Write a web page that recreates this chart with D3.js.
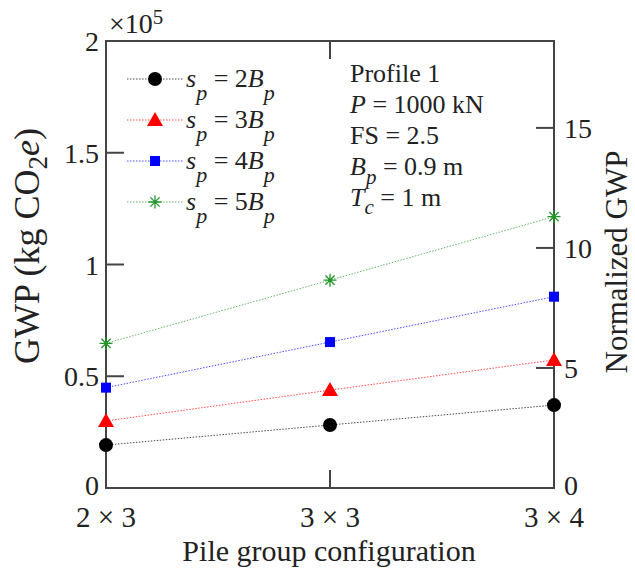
<!DOCTYPE html>
<html><head><meta charset="utf-8">
<script src="https://cdn.jsdelivr.net/npm/d3@7"></script>
<style>body{margin:0;background:#fff}svg{display:block}text{font-family:"Liberation Serif","Times New Roman",serif;fill:#222}</style>
</head><body>
<svg id="c" width="635" height="571"></svg>
<script>
const categories = ["2 × 3", "3 × 3", "3 × 4"];
const seriesNames = ["2", "3", "4", "5"];
const gwp2B = [19200, 28200, 37100];
const gwp3B = [30000, 43800, 57300];
const gwp4B = [44900, 65300, 85600];
const gwp5B = [64700, 93000, 121400];
const leftTicks = [0, 0.5, 1, 1.5, 2];
const rightTicks = [0, 5, 10, 15];
const leftMax = 2e5;
const rightMax = 18.62;
const annotation = ["Profile 1", "P = 1000 kN", "FS = 2.5", "Bp = 0.9 m", "Tc = 1 m"];

const svg = d3.select("#c");
const L = 106, R = 554, T = 41, B = 488;
const x = d3.scalePoint().domain(categories).range([L, R]);
const y = d3.scaleLinear().domain([0, leftMax]).range([B, T]);
const y2 = d3.scaleLinear().domain([0, rightMax]).range([B, T]);
const axisColor = "#444", tl = 18, fs = 28;

const series = [
  {name: seriesNames[0], vals: gwp2B, color: "#000000", shape: "circle"},
  {name: seriesNames[1], vals: gwp3B, color: "#ff0000", shape: "triangle"},
  {name: seriesNames[2], vals: gwp4B, color: "#0000ff", shape: "square"},
  {name: seriesNames[3], vals: gwp5B, color: "#22962a", shape: "star"}
];

function marker(g, shape, color, cx, cy) {
  if (shape === "circle") g.append("circle").attr("cx", cx).attr("cy", cy).attr("r", 7).attr("fill", color);
  else if (shape === "triangle") g.append("path").attr("d", `M${cx},${cy-8}L${cx+8},${cy+6}L${cx-8},${cy+6}Z`).attr("fill", color);
  else if (shape === "square") g.append("rect").attr("x", cx-5).attr("y", cy-5).attr("width", 10).attr("height", 10).attr("fill", color);
  else {
    const r = 6.5;
    let d = "";
    for (let i = 0; i < 4; i++) {
      const a = i * Math.PI / 4;
      d += `M${cx - r*Math.cos(a)},${cy - r*Math.sin(a)}L${cx + r*Math.cos(a)},${cy + r*Math.sin(a)}`;
    }
    g.append("path").attr("d", d).attr("stroke", color).attr("stroke-width", 1.3).attr("fill", "none");
  }
}

// frame and axes
const ax = svg.append("g").attr("stroke", axisColor).attr("stroke-width", 2).attr("fill", "none");
ax.append("path").attr("d", `M${L},${T}H${R}V${B}H${L}Z`);
leftTicks.forEach(t => { const yy = y(t*1e5); ax.append("line").attr("x1", L).attr("x2", L+tl).attr("y1", yy).attr("y2", yy); });
rightTicks.forEach(t => { const yy = y2(t); ax.append("line").attr("x1", R).attr("x2", R-tl).attr("y1", yy).attr("y2", yy); });
categories.forEach(c => { const xx = x(c);
  ax.append("line").attr("x1", xx).attr("x2", xx).attr("y1", B).attr("y2", B-tl);
  ax.append("line").attr("x1", xx).attr("x2", xx).attr("y1", T).attr("y2", T+tl); });

// tick labels
leftTicks.forEach(t => svg.append("text").attr("x", L-7).attr("y", t === 0 ? y(0)+7 : y(t*1e5)+10).attr("text-anchor", "end").attr("font-size", fs).text(t));
rightTicks.forEach(t => svg.append("text").attr("x", R+10).attr("y", t === 0 ? y2(0)+7 : y2(t)+10).attr("font-size", fs).text(t));
categories.forEach(c => svg.append("text").attr("x", x(c)).attr("y", 527).attr("text-anchor", "middle").attr("font-size", 29).text(c));
const ex = svg.append("text").attr("x", 109).attr("y", 33).attr("font-size", fs);
ex.append("tspan").text("×10");
ex.append("tspan").attr("dy", -9).attr("font-size", 21).text("5");

// axis titles
svg.append("text").attr("x", 329).attr("y", 561).attr("text-anchor", "middle").attr("font-size", 30).text("Pile group configuration");
const lt = svg.append("text").attr("transform", "translate(39,246) rotate(-90)").attr("text-anchor", "middle").attr("font-size", 36);
lt.append("tspan").text("GWP (kg CO");
lt.append("tspan").attr("dy", 8).attr("font-size", 27).text("2");
lt.append("tspan").attr("dy", -8).attr("font-style", "italic").text("e");
lt.append("tspan").text(")");
svg.append("text").attr("transform", "translate(627,262) rotate(-90)").attr("text-anchor", "middle").attr("font-size", 31).text("Normalized GWP");

// series
const line = d3.line().x((d, i) => x(categories[i])).y(d => y(d));
series.forEach(s => {
  svg.append("path").attr("d", line(s.vals)).attr("fill", "none").attr("stroke", s.color).attr("stroke-width", 1).attr("stroke-dasharray", "1.5,1.5").attr("opacity", 0.7);
  const g = svg.append("g");
  s.vals.forEach((v, i) => marker(g, s.shape, s.color, x(categories[i]), y(v)));
});

// legend
series.forEach((s, i) => {
  const ly = 79 + i * 41;
  svg.append("line").attr("x1", 127).attr("x2", 183).attr("y1", ly).attr("y2", ly).attr("stroke", s.color).attr("stroke-width", 1).attr("stroke-dasharray", "1.5,1.5").attr("opacity", 0.7);
  marker(svg.append("g"), s.shape, s.color, 155, ly);
  const t = svg.append("text").attr("x", 186).attr("y", ly + 8).attr("font-size", 26).attr("fill", "#333");
  t.append("tspan").attr("font-style", "italic").text("s");
  t.append("tspan").attr("font-style", "italic").attr("dy", 13).attr("font-size", 22).text("p");
  t.append("tspan").attr("dy", -13).text(" = " + s.name);
  t.append("tspan").attr("font-style", "italic").text("B");
  t.append("tspan").attr("font-style", "italic").attr("dy", 13).attr("font-size", 22).text("p");
});

// annotation
const ann = svg.append("g").attr("font-size", 26);
const ay0 = 82, ad = 31, axx = 350;
ann.append("text").attr("x", axx).attr("y", ay0).text(annotation[0]);
let t1 = ann.append("text").attr("x", axx).attr("y", ay0 + ad);
t1.append("tspan").attr("font-style", "italic").text("P"); t1.append("tspan").text(" = 1000 kN");
ann.append("text").attr("x", axx).attr("y", ay0 + 2*ad).text(annotation[2]);
let t3 = ann.append("text").attr("x", axx).attr("y", ay0 + 3*ad);
t3.append("tspan").attr("font-style", "italic").text("B");
t3.append("tspan").attr("font-style", "italic").attr("dy", 9).attr("font-size", 21).text("p");
t3.append("tspan").attr("dy", -9).text(" = 0.9 m");
let t4 = ann.append("text").attr("x", axx).attr("y", ay0 + 4*ad);
t4.append("tspan").attr("font-style", "italic").text("T");
t4.append("tspan").attr("font-style", "italic").attr("dy", 8).attr("font-size", 21).text("c");
t4.append("tspan").attr("dy", -8).text(" = 1 m");
</script>
</body></html>
